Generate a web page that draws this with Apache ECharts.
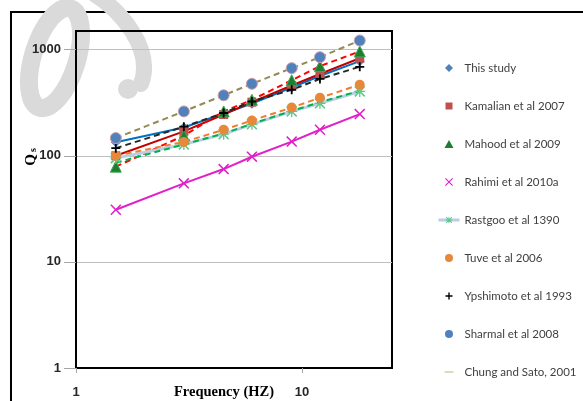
<!DOCTYPE html>
<html><head><meta charset="utf-8">
<script src="https://cdn.jsdelivr.net/npm/echarts@6/dist/echarts.min.js"></script>
<style>html,body{margin:0;padding:0;background:#fff}#c{width:583px;height:401px}</style>
</head><body><div id="c"></div>
<script>
// ---- data ----
const freqs = [1.5, 3, 4.5, 6, 9, 12, 18];
const thisStudy = [134, 185, 250, 310, 440, 565, 780];
const kamalian = [100, 170, 245, 320, 460, 590, 830];
const mahood = [79, 155, 262, 337, 515, 700, 963];
const rahimi = [31, 55, 75, 98, 136, 176, 247];
const rastgoo = [95, 128, 160, 198, 262, 312, 404];
const tuve = [100, 135, 176, 215, 285, 352, 468];
const ypshimoto = [118, 188, 253, 325, 419, 530, 690];
const sharmal = [147, 262, 372, 477, 670, 850, 1220];
const chungSato = [86, 128, 162, 200, 265, 320, 410];
const seriesNames = ['This study', 'Kamalian et al 2007', 'Mahood et al 2009', 'Rahimi et al 2010a',
  'Rastgoo et al 1390', 'Tuve et al 2006', 'Ypshimoto et al 1993', 'Sharmal et al 2008', 'Chung and Sato, 2001'];
const xTicks = [1, 10];
const yTicks = [1, 10, 100, 1000];

const chart = echarts.init(document.getElementById('c'), null, {renderer: 'canvas'});
const pairs = vals => freqs.map((f, i) => [f, vals[i]]);
const dash = [6, 4];
const plusPath = 'path://M4,0H6V4H10V6H6V10H4V6H0V4H4Z';
const xPath = 'path://M0,1L1,0L5,4L9,0L10,1L6,5L10,9L9,10L5,6L1,10L0,9L4,5Z';
const starPath = 'path://M0,1L1,0L5,4L9,0L10,1L6,5L10,9L9,10L5,6L1,10L0,9L4,5Z M4.4,0H5.6V10H4.4Z M0,4.4H10V5.6H0Z';

// legend icons drawn inside a 21x8 box (corner move-tos keep the box, shape stays undistorted)
const box = 'path://M0,0 M21,8 ';
const lgDiamond = box + 'M10.5,0 L14.5,4 L10.5,8 L6.5,4 Z';
const lgSquare = box + 'M7,0.5 H14 V7.5 H7 Z';
const lgTriangle = box + 'M10.5,0 L15,8 L6,8 Z';
const lgCircle = box + 'M6.5,4 A4,4 0 1,1 14.5,4 A4,4 0 1,1 6.5,4 Z';
const lgX = box + 'M6.5,0.8L7.3,0L10.5,3.2L13.7,0L14.5,0.8L11.3,4L14.5,7.2L13.7,8L10.5,4.8L7.3,8L6.5,7.2L9.7,4Z';
const lgPlus = box + 'M9.8,0.5H11.2V3.3H14V4.7H11.2V7.5H9.8V4.7H7V3.3H9.8Z';
const lgDash = box + 'M6,3.3 H15 V4.7 H6 Z';

const base = {type: 'line', showAllSymbol: true, animation: false, emphasis: {disabled: true}};
const series = [
  Object.assign({}, base, {name: seriesNames[0], data: pairs(thisStudy), symbol: 'diamond', symbolSize: 10,
    itemStyle: {color: '#4F81BD'}, lineStyle: {color: '#0070C0', width: 2}}),
  Object.assign({}, base, {name: seriesNames[1], data: pairs(kamalian), symbol: 'rect', symbolSize: 9,
    itemStyle: {color: '#C0504D'}, lineStyle: {color: '#C00000', width: 2}}),
  Object.assign({}, base, {name: seriesNames[2], data: pairs(mahood), symbol: 'triangle', symbolSize: 11,
    itemStyle: {color: '#1E7D32', borderColor: '#3DAA55', borderWidth: 1}, lineStyle: {color: '#FF0000', width: 2, type: dash}}),
  Object.assign({}, base, {name: seriesNames[3], data: pairs(rahimi), symbol: xPath, symbolSize: 11,
    itemStyle: {color: '#E020C8'}, lineStyle: {color: '#E020C8', width: 2}}),
  Object.assign({}, base, {name: seriesNames[4], data: pairs(rastgoo), symbol: starPath, symbolSize: 11,
    itemStyle: {color: '#5CC98A'}, lineStyle: {color: '#B9CDE5', width: 3}}),
  Object.assign({}, base, {name: seriesNames[5], data: pairs(tuve), symbol: 'circle', symbolSize: 10,
    itemStyle: {color: '#E8883A'}, lineStyle: {color: '#ED7D31', width: 2, type: dash}}),
  Object.assign({}, base, {name: seriesNames[6], data: pairs(ypshimoto), symbol: plusPath, symbolSize: 9,
    itemStyle: {color: '#000'}, lineStyle: {color: '#262626', width: 2, type: dash}}),
  Object.assign({}, base, {name: seriesNames[7], data: pairs(sharmal), symbol: 'circle', symbolSize: 11,
    itemStyle: {color: '#4F81BD', borderColor: '#C9A0B0', borderWidth: 1}, lineStyle: {color: '#948A54', width: 2, type: dash}}),
  Object.assign({}, base, {name: seriesNames[8], data: pairs(chungSato), symbol: 'none',
    itemStyle: {color: '#C3D69B'}, lineStyle: {color: '#00B050', width: 2, type: dash}})
];

const legendIcons = [lgDiamond, lgSquare, lgTriangle, lgX, null, lgCircle, lgPlus, lgCircle, lgDash];
const legendData = seriesNames.map((n, i) => {
  const d = {name: n};
  if (legendIcons[i]) d.icon = legendIcons[i];
  if (i === 2) d.itemStyle = {color: '#1E7D32', borderWidth: 0};
  if (i === 4) d.lineStyle = {color: '#B9CDE5', width: 3, type: 'solid'};
  if (i === 7) d.itemStyle = {color: '#4F81BD', borderWidth: 0};
  if (i === 8) d.itemStyle = {color: '#C3D69B'};
  return d;
});

const axisFont = {fontFamily: 'Liberation Sans', fontWeight: 'bold', fontSize: 13, color: '#262626'};

chart.setOption({
  animation: false,
  backgroundColor: '#fff',
  grid: {left: 76, right: 191, top: 31, bottom: 33, show: true, borderColor: '#000', borderWidth: 2,
    backgroundColor: 'transparent', outerBoundsMode: 'none', containLabel: false},
  legend: {
    orient: 'vertical', left: 432, top: 57, itemWidth: 21, itemHeight: 8, itemGap: 26,
    textStyle: {fontFamily: 'Lato', fontSize: 11.5, color: '#404040'},
    data: legendData, selectedMode: false
  },
  xAxis: {
    type: 'log', logBase: 10, min: 1, max: 25,
    axisLine: {show: true, onZero: false, lineStyle: {color: '#000', width: 2}},
    axisTick: {show: true, length: 5, lineStyle: {color: '#A6A6A6'}, customValues: xTicks},
    axisLabel: Object.assign({customValues: xTicks, margin: 18, formatter: v => String(v)}, axisFont),
    splitLine: {show: false}, minorTick: {show: false}, minorSplitLine: {show: false},
    name: 'Frequency (HZ)', nameLocation: 'middle', nameGap: 17, nameMoveOverlap: false,
    nameTextStyle: {fontFamily: 'Liberation Serif', fontWeight: 'bold', fontSize: 14.5, color: '#000', padding: [0, 20, 0, 0]}
  },
  yAxis: {
    type: 'log', logBase: 10, min: 1, max: 1500,
    axisLine: {show: true, onZero: false, lineStyle: {color: '#000', width: 2}},
    axisTick: {show: true, length: 12, lineStyle: {color: '#A6A6A6'}, customValues: yTicks},
    axisLabel: Object.assign({customValues: yTicks, margin: 15, formatter: v => String(v)}, axisFont),
    splitLine: {show: true, lineStyle: {color: '#BFBFBF', width: 1}},
    minorTick: {show: false}, minorSplitLine: {show: false}
  },
  graphic: {elements: [
    {type: 'rect', z: -5, shape: {x: 11, y: 12, width: 620, height: 440}, style: {fill: 'none', stroke: '#000', lineWidth: 2}, silent: true},
    {type: 'ellipse', z: -5, x: 55, y: 58, rotation: -0.3, shape: {cx: 0, cy: 0, rx: 22, ry: 52},
      style: {fill: 'none', stroke: '#DADADA', lineWidth: 18}, silent: true},
    {type: 'bezierCurve', z: -5, shape: {x1: 84, y1: -12, cpx1: 122, cpy1: 8, cpx2: 154, cpy2: 50, x2: 141, y2: 84},
      style: {fill: 'none', stroke: '#DADADA', lineWidth: 16, lineCap: 'round'}, silent: true},
    {type: 'circle', z: -5, shape: {cx: 128, cy: 89, r: 10}, style: {fill: '#DADADA'}, silent: true},
    {type: 'text', x: 31, y: 157, rotation: Math.PI / 2, silent: true,
      style: {text: '{q|Q}{s|s}', align: 'center', verticalAlign: 'middle',
        rich: {q: {fontFamily: 'Liberation Serif', fontWeight: 'bold', fontSize: 15, fill: '#000'},
               s: {fontFamily: 'Liberation Serif', fontWeight: 'bold', fontSize: 10, fill: '#000', padding: [5, 0, 0, 2]}}}}
  ]},
  series: series
});
</script>
</body></html>
